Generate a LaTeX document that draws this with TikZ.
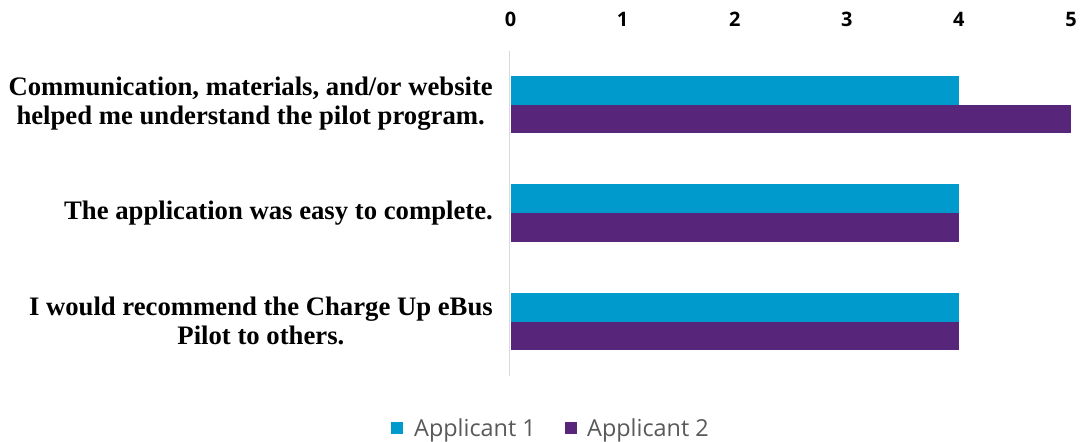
\documentclass[tikz,border=0pt]{standalone}
\usepackage{fontspec}
\setmainfont{Liberation Serif}
\newfontfamily\opensans{Open Sans}
\definecolor{appA}{HTML}{009ACD}
\definecolor{appB}{HTML}{57267A}
\definecolor{axisgray}{HTML}{D9D9D9}
\definecolor{legendgray}{HTML}{595959}
\tikzset{
  barA/.style={fill=appA, draw=none},
  barB/.style={fill=appB, draw=none},
  ticklbl/.style={font=\opensans\bfseries\fontsize{20}{24}\selectfont, text=black, inner sep=0pt, anchor=base},
  catlbl/.style={font=\bfseries\fontsize{26.8}{29}\selectfont, align=center, anchor=east, inner sep=0pt},
  leglbl/.style={font=\opensans\fontsize{23.5}{27}\selectfont, text=legendgray, anchor=base west, inner sep=0pt},
}
\begin{document}
\begin{tikzpicture}[x=1bp,y=-1bp]
\useasboundingbox (0,0) rectangle (1081,442);
\def\xz{510.5}
\def\un{112.1}
% axis
\draw[axisgray, line width=1.5bp] (509.5,51) coordinate (axtop) -- (509.5,376) coordinate (axbot);
% tick labels
\foreach \k in {0,...,5} {
  \node[ticklbl] (t\k) at ({\xz+\k*\un},27) {\k};
}
% bars
\foreach \g/\top/\va/\vb in {1/76/4/5, 2/184.5/4/4, 3/293/4/4} {
  \fill[barA] (511,\top) rectangle ({\xz+\va*\un},\top+28.7);
  \fill[barB] (511,\top+28.7) rectangle ({\xz+\vb*\un},\top+57.4);
}
% category labels
\node[catlbl] (c1) at (493,104) {Communication, materials, and/or website\\helped me understand the pilot program.};
\node[catlbl] (c2) at (493,213) {The application was easy to complete.};
\node[catlbl] (c3) at (493,321) {I would recommend the Charge Up eBus\\Pilot to others.};
% legend
\fill[appA] (391,422) rectangle (403,434);
\node[leglbl] (l1) at (414,436) {Applicant 1};
\fill[appB] (565,422) rectangle (577,434);
\node[leglbl] (l2) at (587,436) {Applicant 2};
\end{tikzpicture}
\end{document}
